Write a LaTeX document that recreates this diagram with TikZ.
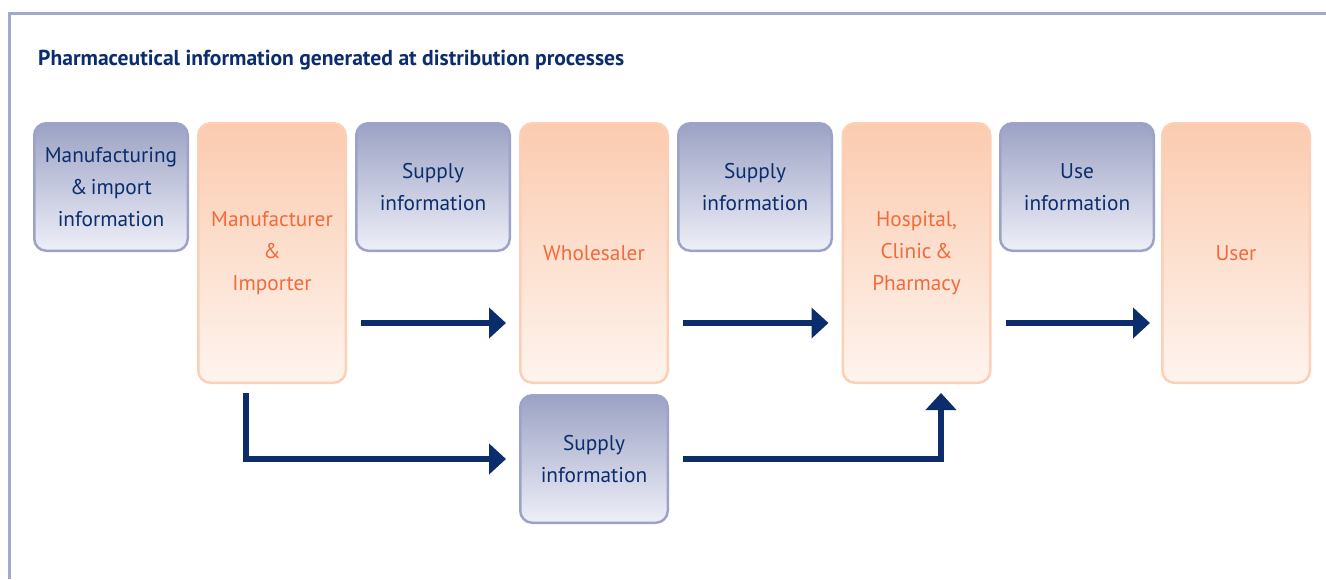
\documentclass[tikz,border=0pt]{standalone}
\usepackage{fontspec}
\setmainfont{PT Sans}
\usetikzlibrary{arrows.meta}
\definecolor{frameblue}{HTML}{A3A9CC}
\definecolor{navy}{HTML}{0B2D6B}
\definecolor{btop}{HTML}{9CA2C5}
\definecolor{bbot}{HTML}{EEEFF8}
\definecolor{bborder}{HTML}{9DA3C8}
\definecolor{otop}{HTML}{FBCBAF}
\definecolor{obot}{HTML}{FEF4EE}
\definecolor{oborder}{HTML}{FCCFB6}
\definecolor{otext}{HTML}{F26A3C}
\tikzset{
  infobox/.style={draw=bborder, line width=2.5pt, rounded corners=12pt,
    top color=btop, bottom color=bbot, minimum width=153.5pt, minimum height=127.5pt,
    align=center, text=navy, font=\fontsize{21.3}{31.8}\selectfont, inner sep=0pt},
  actorbox/.style={draw=oborder, line width=2.5pt, rounded corners=12pt,
    top color=otop, bottom color=obot, minimum width=147.5pt, minimum height=259.5pt,
    align=center, text=otext, font=\fontsize{21.3}{31.8}\selectfont, inner sep=0pt},
  flow/.style={draw=navy, line width=5.5pt, -{Triangle[width=30pt,length=17pt]}},
}
\begin{document}
\begin{tikzpicture}[x=1pt,y=-1pt]
\useasboundingbox (0,0) rectangle (1326,579);
% frame
\draw[frameblue, line width=3pt] (9.5,579) -- (9.5,13) -- (1326,13);
\node[anchor=base west, text=navy, font=\fontsize{21.6}{26}\selectfont\bfseries, inner sep=0pt]
  (title) at (38,65) {Pharmaceutical information generated at distribution processes};
% boxes
\node[infobox] (mii) at (111,187) {Manufacturing\\\&\,import\\information};
\node[actorbox] (mfr) at (272,253) {Manufacturer\\\&\\Importer};
\node[infobox] (si1) at (433,187) {Supply\\information};
\node[actorbox] (whl) at (594,253) {Wholesaler};
\node[infobox] (si2) at (755,187) {Supply\\information};
\node[actorbox] (hos) at (916.5,253) {Hospital,\\Clinic\,\&\\Pharmacy};
\node[infobox] (use) at (1077,187) {Use\\information};
\node[actorbox] (usr) at (1236,253) {User};
\node[infobox, minimum width=147.5pt] (si3) at (594,459) {Supply\\information};
% arrows
\coordinate (row) at (0,323);
\draw[flow, shorten <=14pt, shorten >=13pt] (mfr.east |- row) -- (whl.west |- row);
\draw[flow, shorten <=14pt, shorten >=13pt] (whl.east |- row) -- (hos.west |- row);
\draw[flow, shorten <=14pt, shorten >=11pt] (hos.east |- row) -- (usr.west |- row);
\draw[flow, shorten <=9pt, shorten >=13pt] ([xshift=-26pt]mfr.south) |- (si3.west);
\draw[flow, shorten <=14pt, shorten >=9pt] (si3.east) -| ([xshift=24.5pt]hos.south);
\end{tikzpicture}
\end{document}
